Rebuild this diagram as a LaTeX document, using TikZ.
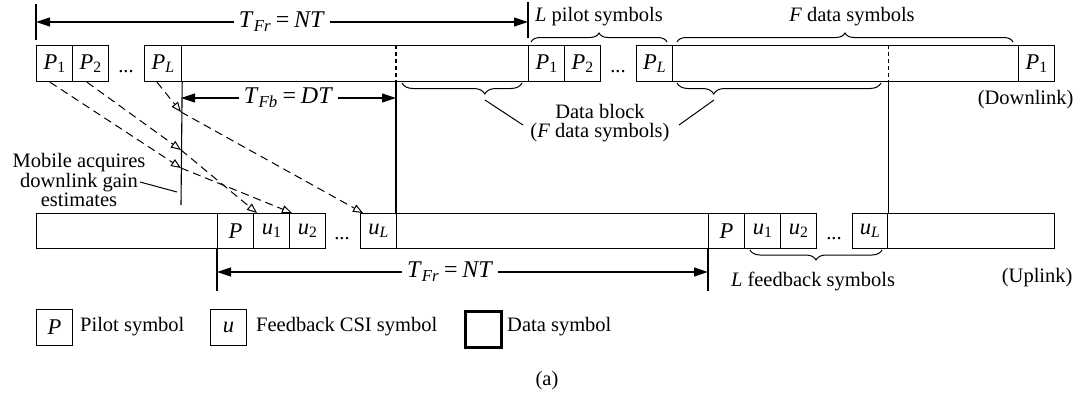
\documentclass[tikz,border=0pt]{standalone}
\usepackage{fontspec}
\setmainfont{Liberation Serif}
\usetikzlibrary{arrows.meta,decorations.pathreplacing}

\newcommand\mi[1]{\textit{#1}}
\newcommand\lo[1]{\textsubscript{#1}}
\newcommand\eqs{\hspace{0.2em}=\hspace{0.2em}}

\begin{document}
\begin{tikzpicture}[x=1pt,y=-1pt,
  font=\fontsize{20.5}{17.5}\selectfont,
  cell/.style={draw,line width=1.2pt,anchor=north west,inner sep=0pt,minimum height=36pt,
    font=\fontsize{22.5}{22.5}\selectfont},
  ucell/.style={cell,minimum height=35pt},
  txt/.style={inner sep=0pt},
  tline/.style={line width=1.1pt},
  mark line/.style={line width=1.1pt,dash pattern=on 4pt off 3pt},
  dim/.style={line width=1.1pt,{Triangle[length=14pt,width=9pt]}-{Triangle[length=14pt,width=9pt]}},
  lbl/.style={fill=white,inner sep=5pt,font=\fontsize{24}{24}\selectfont},
  fb/.style={line width=1pt,dash pattern=on 8pt off 5pt,-{Triangle[open,length=10pt,width=8pt]}},
  brc/.style={decorate,decoration={brace,amplitude=9pt},line width=1pt},
  lead/.style={line width=1pt}]

\useasboundingbox (0,0) rectangle (1077,402);

% ---------- downlink frame ----------
\node[cell,minimum width=36pt] (dP1) at (36,45) {\mi{P}\lo{1}};
\node[cell,minimum width=36pt] (dP2) at (72,45) {\mi{P}\lo{2}};
\node[txt] (dDots1) at (126,72) {...};
\node[cell,minimum width=37pt] (dPL) at (144,45) {\mi{P}\lo{\mi{L}}};
\node[cell,minimum width=347pt] (dD1) at (181,45) {};
\node[cell,minimum width=36pt] (dQ1) at (528,45) {\mi{P}\lo{1}};
\node[cell,minimum width=36pt] (dQ2) at (564,45) {\mi{P}\lo{2}};
\node[txt] (dDots2) at (618,72) {...};
\node[cell,minimum width=36pt] (dQL) at (636,45) {\mi{P}\lo{\mi{L}}};
\node[cell,minimum width=346pt] (dD2) at (672,45) {};
\node[cell,minimum width=36pt] (dR1) at (1018,45) {\mi{P}\lo{1}};

% ---------- uplink frame ----------
\node[ucell,minimum width=181pt] (uD0) at (36,213) {};
\node[ucell,minimum width=36pt] (uP1) at (217,213) {\mi{P}};
\node[ucell,minimum width=36pt] (uA1) at (253,213) {\mi{u}\lo{1}};
\node[ucell,minimum width=36pt] (uA2) at (289,213) {\mi{u}\lo{2}};
\node[txt] (uDots1) at (342,239) {...};
\node[ucell,minimum width=36pt] (uAL) at (360,213) {\mi{u}\lo{\mi{L}}};
\node[ucell,minimum width=312pt] (uD1) at (396,213) {};
\node[ucell,minimum width=36pt] (uP2) at (708,213) {\mi{P}};
\node[ucell,minimum width=36pt] (uB1) at (744,213) {\mi{u}\lo{1}};
\node[ucell,minimum width=36pt] (uB2) at (780,213) {\mi{u}\lo{2}};
\node[txt] (uDots2) at (834,239) {...};
\node[ucell,minimum width=35pt] (uBL) at (852,213) {\mi{u}\lo{\mi{L}}};
\node[ucell,minimum width=167pt] (uD2) at (887,213) {};

% dashed time marks inside the downlink data blocks
\draw[mark line] (uD1.north west |- dD1.north) -- (uD1.north west |- dD1.south);
\draw[mark line] (uBL.north east |- dD2.north) -- (uBL.north east |- dD2.south);

% solid time lines between the frames
\coordinate (mobEnd) at (181,205);
\draw[tline] (dPL.south east) -- (mobEnd);
\draw[tline] (uD1.north west |- dD1.south) -- (uD1.north west);
\draw[tline] (uBL.north east |- dD2.south) -- (uBL.north east);

% ---------- frame length, downlink ----------
\draw[tline] (36,4) -- (36,40);
\draw[tline] (528,2) -- (528,38);
\coordinate (topA) at (36,22);
\coordinate (topB) at (528,22);
\draw[dim] (topA) -- node[lbl] (tfrTop) {\mi{T}\lo{\mi{Fr}}\eqs\mi{NT}} (topB);

% ---------- feedback delay ----------
\coordinate (fbA) at (181,98);
\coordinate (fbB) at (396,98);
\draw[dim] (fbA) -- node[lbl] (tfb) {\mi{T}\lo{\mi{Fb}}\eqs\mi{DT}} (fbB);

% ---------- frame length, uplink ----------
\draw[tline] (uP1.south west) -- ++(0,42);
\draw[tline] (uP2.south west) -- ++(0,42);
\coordinate (botA) at (217,272);
\coordinate (botB) at (708,272);
\draw[dim] (botA) -- node[lbl,pos=0.475] (tfrBot) {\mi{T}\lo{\mi{Fr}}\eqs\mi{NT}} (botB);

% ---------- braces and their labels ----------
\node (lpil) at (599,17) {\mi{L} pilot symbols};
\node (fdat) at (852,17) {\mi{F} data symbols};
\draw[brc] (531,42) -- (667,42);
\draw[brc] (677,42) -- (1013,42);

\draw[brc,decoration={mirror,amplitude=11pt,aspect=0.69}] (402,83) -- (522,83);
\draw[brc,decoration={mirror,amplitude=11pt,aspect=0.18}] (677,83) -- (881,83);
\node[align=center,font=\fontsize{20.5}{19}\selectfont] (dblk) at (600,123) {Data block\\(\mi{F} data symbols)};
\coordinate (tipL) at (485,100);
\coordinate (tipR) at (714,100);
\coordinate (dbL) at (523,125);
\coordinate (dbR) at (679,125);
\draw[lead] (tipL) -- (dbL);
\draw[lead] (tipR) -- (dbR);

\node[anchor=east] (dlink) at (1077,100) {(Downlink)};

\draw[brc,decoration={mirror,amplitude=10pt}] (750,250) -- (882,250);
\node (lfb) at (813,281) {\mi{L} feedback symbols};
\node[anchor=east] (ulink) at (1076,278) {(Uplink)};

% ---------- mobile side ----------
\node[align=center] (mob) at (79,180) {Mobile acquires\\downlink gain\\estimates};
\coordinate (mobFrom) at (140,182);
\coordinate (mobTo) at (177,192);
\draw[lead] (mobFrom) -- (mobTo);

% ---------- pilot reception and CSI feedback ----------
\coordinate (rx1) at (181,168);
\coordinate (rx2) at (181,150);
\coordinate (rxL) at (181,112);
\draw[fb] ([xshift=14pt]dP1.south west) -- (rx1);
\draw[fb] ([xshift=15pt]dP2.south west) -- (rx2);
\draw[fb] ([xshift=13pt]dPL.south west) -- (rxL);
\draw[fb] (rx1) -- ([xshift=3pt]uA2.north west);
\draw[fb] (rx2) -- ([xshift=4pt]uA1.north west);
\draw[fb] (rxL) -- ([xshift=3pt]uAL.north west);

% ---------- legend ----------
\node[cell,minimum width=36pt] (lgP) at (36,309) {\mi{P}};
\node[txt,anchor=west] (lgPt) at (80,327) {Pilot symbol};
\node[cell,minimum width=36pt] (lgU) at (210,309) {\mi{u}};
\node[txt,anchor=west] (lgUt) at (256,327) {Feedback CSI symbol};
\node[cell,line width=2.6pt,minimum width=36pt] (lgD) at (464,310) {};
\node[txt,anchor=west] (lgDt) at (507,327) {Data symbol};

\node (cap) at (547,381) {(a)};
\end{tikzpicture}
\end{document}
